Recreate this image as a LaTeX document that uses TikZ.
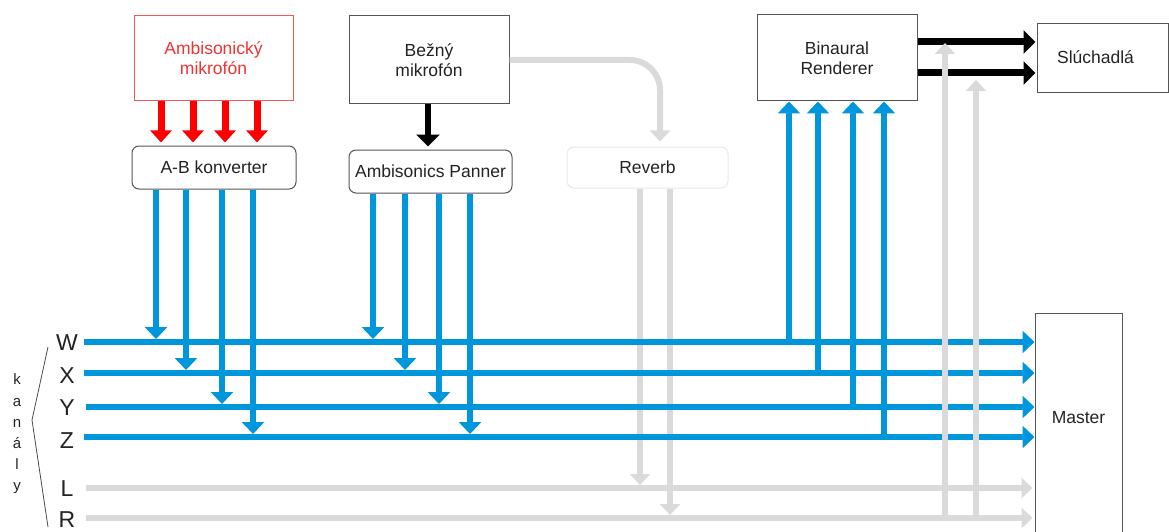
\documentclass[tikz,border=0pt]{standalone}
\usepackage{fontspec}
\setmainfont{Liberation Sans}
\usetikzlibrary{arrows.meta}
\definecolor{chblue}{RGB}{0,150,219}
\definecolor{lgray}{RGB}{218,218,218}
\definecolor{boxgray}{RGB}{85,85,85}
\definecolor{redtxt}{RGB}{240,50,50}
\definecolor{redbord}{RGB}{240,90,90}
\definecolor{revbord}{RGB}{232,232,232}
\definecolor{txtdark}{RGB}{35,35,35}
\begin{document}
\begin{tikzpicture}[x=1pt,y=-1pt,
 box/.style={draw=boxgray, line width=1pt, align=center, text=txtdark, font=\fontsize{17.5}{20}\selectfont, inner sep=0pt},
 rbox/.style={box, rounded corners=7pt},
 bluearr/.style={color=chblue, line width=6pt, -{Triangle[width=22pt,length=12pt]}},
 grayarr/.style={color=lgray, line width=6pt, -{Triangle[width=20pt,length=11pt]}},
 blackarr/.style={color=black, line width=7pt, -{Triangle[width=23pt,length=12pt]}},
 redarr/.style={color=red, line width=7pt, -{Triangle[width=21pt,length=12pt]}},
 chlabel/.style={font=\fontsize{23}{23}\selectfont, inner sep=0pt, text=txtdark},
]
\useasboundingbox (0,0) rectangle (1169,532);

% boxes
\node[box, draw=redbord, text=redtxt, minimum width=159pt, minimum height=85pt] (ambi) at (213.5,58.5) {Ambisonický\\mikrofón};
\node[box, minimum width=160pt, minimum height=88pt] (bezny) at (429,60) {Bežný\\mikrofón};
\node[rbox, minimum width=164pt, minimum height=43pt] (ab) at (214,167.5) {A-B konverter};
\node[rbox, minimum width=163pt, minimum height=43pt] (pan) at (430.5,171.5) {Ambisonics Panner};
\node[rbox, draw=revbord, minimum width=161pt, minimum height=41pt] (rev) at (647.5,167.5) {Reverb};
\node[box, minimum width=160pt, minimum height=86pt] (bin) at (837,58) {Binaural\\Renderer};
\node[box, minimum width=131pt, minimum height=69pt] (sluch) at (1102.5,58.5) {\raisebox{3pt}{Slúchadlá}\hspace{14pt}};
\node[box, minimum width=87pt, minimum height=240pt, anchor=north] (master) at (1078.5,313) {};
\node[font=\fontsize{17.5}{20}\selectfont, inner sep=0pt, text=txtdark] (mastertxt) at (1078.5,418) {Master};

% channel labels
\node[chlabel] (lW) at (67,343) {W};
\node[chlabel] (lX) at (67,376) {X};
\node[chlabel] (lY) at (67,408) {Y};
\node[chlabel] (lZ) at (67,441) {Z};
\node[chlabel] (lL) at (67,489) {L};
\node[chlabel] (lR) at (67,520) {R};
\node[font=\fontsize{15}{21.2}\selectfont, align=center, inner sep=0pt, text=txtdark] (kan) at (17,434) {k\\a\\n\\á\\l\\y};
\draw[line width=0.8pt, color=black!70] (48,347) -- (32,420) -- (48,527);

% coordinates
\coordinate (cW) at (84,342);
\coordinate (cX) at (84,373);
\coordinate (cY) at (86,407);
\coordinate (cZ) at (84,437);
\coordinate (cL) at (86,488);
\coordinate (cR) at (86,518);
\coordinate (yRb) at (0,521);
\coordinate (xr1) at (161,0);
\coordinate (xr2) at (193,0);
\coordinate (xr3) at (225,0);
\coordinate (xr4) at (257,0);
\coordinate (xa1) at (156,0);
\coordinate (xa2) at (186,0);
\coordinate (xa3) at (222,0);
\coordinate (xa4) at (253,0);
\coordinate (xp1) at (373,0);
\coordinate (xp2) at (405,0);
\coordinate (xp3) at (439,0);
\coordinate (xp4) at (470,0);
\coordinate (xb1) at (789,0);
\coordinate (xb2) at (818,0);
\coordinate (xb3) at (853,0);
\coordinate (xb4) at (884,0);
\coordinate (xg1) at (640,0);
\coordinate (xg2) at (670,0);
\coordinate (xh1) at (945,0);
\coordinate (xh2) at (976,0);
\coordinate (xrev) at (660,0);
\coordinate (xbk) at (428,0);
\coordinate (yk1) at (0,42);
\coordinate (yk2) at (0,73);
\coordinate (yh1) at (0,43);
\coordinate (yh2) at (0,80);

% gray from reverb (under blue)
\draw[grayarr, shorten >=3pt] (rev.south -| xg1) -- (xg1 |- cL);
\draw[grayarr, shorten >=3pt] (rev.south -| xg2) -- (xg2 |- cR);
\draw[grayarr, rounded corners=30pt, shorten >=5pt] (bezny.east) -- (xrev |- bezny.east) -- (rev.north -| xrev);

% channel lines
\draw[bluearr] (cW) -- (cW -| master.west);
\draw[bluearr] (cX) -- (cX -| master.west);
\draw[bluearr] (cY) -- (cY -| master.west);
\draw[bluearr] (cZ) -- (cZ -| master.west);
\draw[grayarr, shorten >=2pt] (cL) -- (cL -| master.west);
\draw[grayarr, shorten >=2pt] (cR) -- (cR -| master.west);

% A-B converter outputs
\draw[bluearr, shorten >=3pt] (ab.south -| xa1) -- (xa1 |- cW);
\draw[bluearr, shorten >=3pt] (ab.south -| xa2) -- (xa2 |- cX);
\draw[bluearr, shorten >=3pt] (ab.south -| xa3) -- (xa3 |- cY);
\draw[bluearr, shorten >=3pt] (ab.south -| xa4) -- (xa4 |- cZ);

% Panner outputs
\draw[bluearr, shorten >=3pt] (pan.south -| xp1) -- (xp1 |- cW);
\draw[bluearr, shorten >=3pt] (pan.south -| xp2) -- (xp2 |- cX);
\draw[bluearr, shorten >=3pt] (pan.south -| xp3) -- (xp3 |- cY);
\draw[bluearr, shorten >=3pt] (pan.south -| xp4) -- (xp4 |- cZ);

% to binaural renderer
\draw[bluearr] ([yshift=3pt]xb1 |- cW) -- (bin.south -| xb1);
\draw[bluearr] ([yshift=3pt]xb2 |- cX) -- (bin.south -| xb2);
\draw[bluearr] ([yshift=3pt]xb3 |- cY) -- (bin.south -| xb3);
\draw[bluearr] ([yshift=3pt]xb4 |- cZ) -- (bin.south -| xb4);

% red arrows
\draw[redarr, shorten >=3pt] (ambi.south -| xr1) -- (ab.north -| xr1);
\draw[redarr, shorten >=3pt] (ambi.south -| xr2) -- (ab.north -| xr2);
\draw[redarr, shorten >=3pt] (ambi.south -| xr3) -- (ab.north -| xr3);
\draw[redarr, shorten >=3pt] (ambi.south -| xr4) -- (ab.north -| xr4);

% black arrows
\draw[blackarr, line width=6pt, shorten >=3pt] (bezny.south -| xbk) -- (pan.north -| xbk);
\draw[blackarr, shorten >=1pt] (bin.east |- yk1) -- (sluch.west |- yk1);
\draw[blackarr, shorten >=1pt] (bin.east |- yk2) -- (sluch.west |- yk2);

% gray L/R to headphones (on top)
\draw[grayarr] (xh1 |- yRb) -- (xh1 |- yh1);
\draw[grayarr] (xh2 |- yRb) -- (xh2 |- yh2);
\end{tikzpicture}
\end{document}
